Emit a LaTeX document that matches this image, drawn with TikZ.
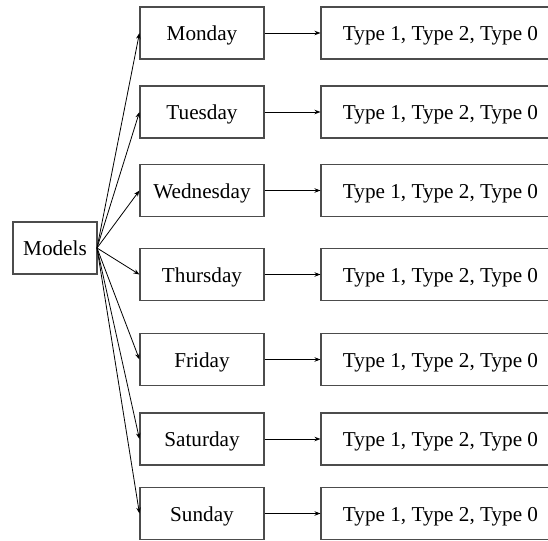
\documentclass[tikz,border=0pt]{standalone}
\usepackage{fontspec}
\setmainfont{Liberation Serif}
\usetikzlibrary{arrows.meta}
\begin{document}
\begin{tikzpicture}[x=1pt,y=-1pt,
  box/.style={draw=black!70, line width=1.1pt, minimum height=52pt, inner sep=0pt, text height=15pt, text depth=0pt, font=\fontsize{21.2}{25}\selectfont},
  daybox/.style={box, minimum width=124pt},
  typebox/.style={box, minimum width=239pt},
  conn/.style={draw=black, line width=0.8pt, -{Stealth[length=6pt,width=4.5pt]}}]
\useasboundingbox (0,0) rectangle (548,540);
\node[box, minimum width=84pt] (models) at (55,248) {Models};
\coordinate (hub) at (97,248);
\foreach \n/\d/\y in {mon/Monday/33, tue/Tuesday/112, wed/Wednesday/190.5, thu/Thursday/274.5, fri/Friday/359.5, sat/Saturday/439, sun/Sunday/513.5}{
  \node[daybox] (\n) at (202,\y) {\d};
  \node[typebox] (t\n) at (440.5,\y) {Type 1, Type 2, Type 0};
  \draw[conn] (hub) -- (\n.west);
  \draw[conn] (\n.east) -- (t\n.west);
}
\end{tikzpicture}
\end{document}
